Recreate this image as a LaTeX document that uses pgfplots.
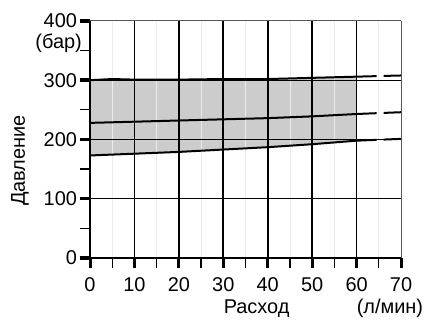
\documentclass[border=0pt]{standalone}
\usepackage{pgfplots}
\pgfplotsset{compat=1.18}
\usepgfplotslibrary{fillbetween}
\usepackage{fontspec}
\setmainfont{Liberation Sans}
\newcommand{\tf}{\fontsize{20}{23}\selectfont}
\begin{document}
\begin{tikzpicture}
\begin{axis}[
  scale only axis, width=311bp, height=237bp,
  xmin=0, xmax=70, ymin=0, ymax=400,
  clip=false,
  axis line style={draw=none},
  xtick=\empty, ytick=\empty,
]
% bounding box
\path (axis cs:-20.26,-106.3) rectangle (axis cs:75.85,435.4);
% series
\addplot[name path=top, draw=none] coordinates {(0,300) (5,302) (10,301) (20,301) (30,302) (40,302) (50,304) (60,306)};
\addplot[name path=bot, draw=none] coordinates {(0,173) (10,176) (20,179) (30,183) (40,187) (50,192) (60,198)};
\addplot[fill=black!20, draw=none] fill between[of=top and bot];
% minor vertical grid lines (faint)
\pgfplotsinvokeforeach{5,15,25,35,45,55,65}{
  \addplot[black!8, line width=0.8bp] coordinates {(#1,0) (#1,400)};
}
% major grid
\pgfplotsinvokeforeach{10,20,30,40,50,60}{
  \addplot[black, line width=1.6bp] coordinates {(#1,0) (#1,400)};
}
\addplot[black!65, line width=1bp] coordinates {(70,0) (70,400)};
\addplot[black!65, line width=1bp] coordinates {(0,400) (70,400)};
\pgfplotsinvokeforeach{100,200,300}{
  \addplot[black, line width=1.3bp] coordinates {(0,#1) (70,#1)};
}
% curves
\addplot[black, line width=2bp] coordinates {(0,300) (5,302) (10,301) (20,301) (30,302) (40,302) (50,304) (60,306)};
\addplot[black, line width=2bp] coordinates {(0,228) (10,230) (20,232) (30,234) (40,236) (50,239) (60,243)};
\addplot[black, line width=2bp] coordinates {(0,173) (10,176) (20,179) (30,183) (40,187) (50,192) (60,198)};
\addplot[black, line width=2bp, dash pattern=on 20bp off 7bp] coordinates {(60,306) (70,308)};
\addplot[black, line width=2bp, dash pattern=on 20bp off 7bp] coordinates {(60,243) (70,246)};
\addplot[black, line width=2bp, dash pattern=on 20bp off 7bp] coordinates {(60,198) (70,201)};
% axes
\addplot[black, line width=2.5bp] coordinates {(0,-4) (0,400)};
\addplot[black, line width=1.3bp] coordinates {(0,0) (70,0)};
% y ticks
\pgfplotsinvokeforeach{0,100,200,300,400}{
  \addplot[black, line width=3.5bp] coordinates {(-2.3,#1) (0,#1)};
  \node[anchor=east, font=\tf, inner sep=0pt] at (axis cs:-2.9,#1) {#1};
}
\pgfplotsinvokeforeach{50,150,250,350}{
  \addplot[black, line width=1.2bp] coordinates {(-2.3,#1) (0,#1)};
}
% x ticks
\pgfplotsinvokeforeach{0,10,20,30,40,50,60,70}{
  \addplot[black, line width=3bp] coordinates {(#1,0) (#1,-16.9)};
  \node[anchor=base, font=\tf, inner sep=0pt] at (axis cs:#1,-57) {#1};
}
\pgfplotsinvokeforeach{5,15,25,35,45,55,65}{
  \addplot[black, line width=1.2bp] coordinates {(#1,0) (#1,-16.9)};
}
\node[anchor=east, font=\tf, inner sep=0pt] at (axis cs:-1.8,363) {(бар)};
\node[anchor=base, font=\tf, inner sep=0pt] at (axis cs:37.5,-93) {Расход};
\node[anchor=base, font=\tf, inner sep=0pt] at (axis cs:67.5,-93) {(л/мин)};
\node[rotate=90, font=\tf, inner sep=0pt] at (axis cs:-15.75,164.6) {Давление};
\end{axis}
\end{tikzpicture}
\end{document}
